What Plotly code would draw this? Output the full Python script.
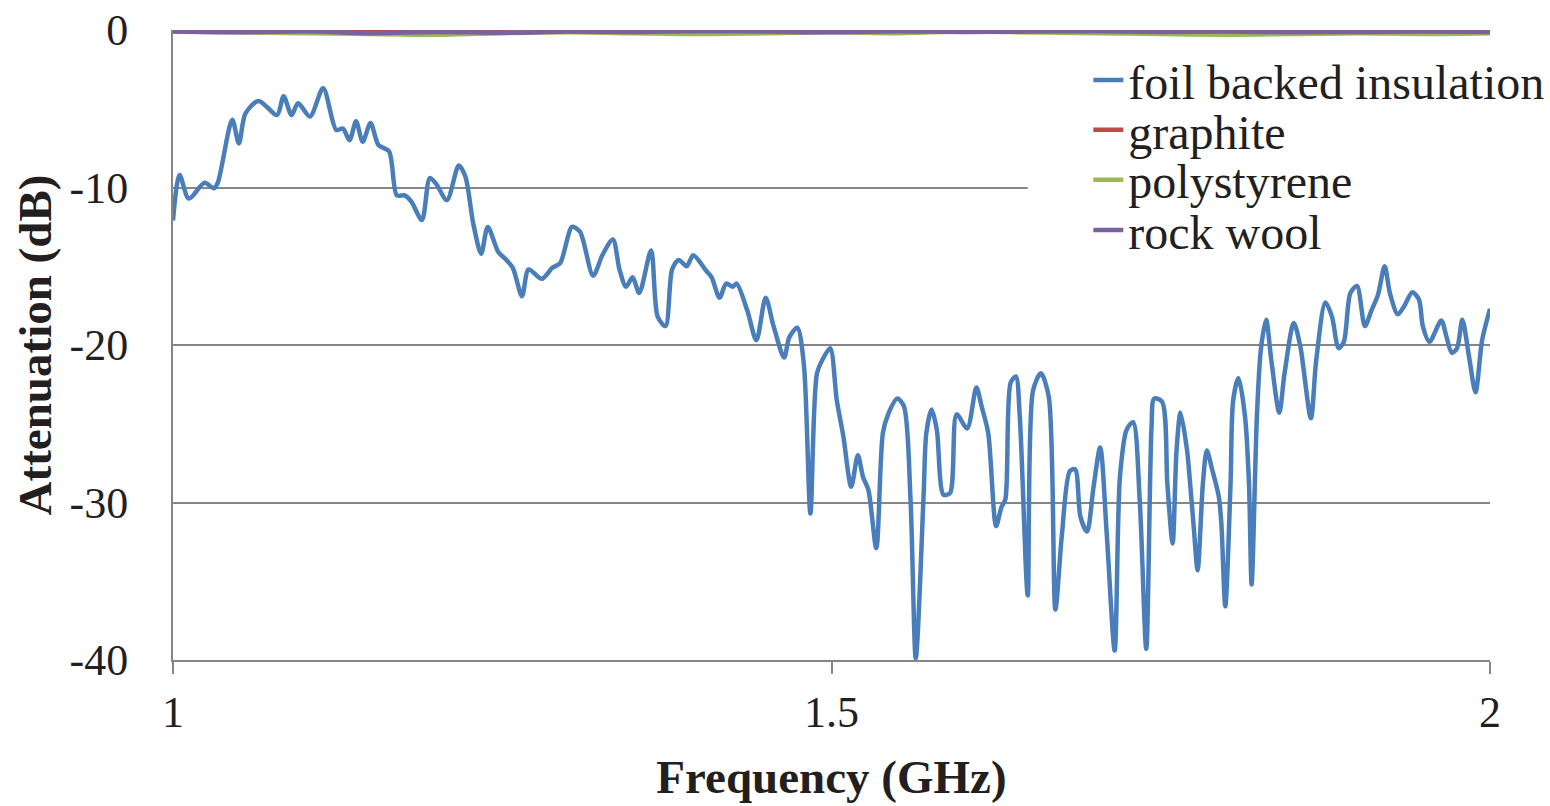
import plotly.graph_objects as go

# ---- data ----
freq_foil = [1.000, 1.005, 1.012, 1.024, 1.031, 1.034, 1.045, 1.050, 1.055, 1.065,
             1.079, 1.084, 1.090, 1.095, 1.104, 1.114, 1.124, 1.129, 1.134, 1.139,
             1.144, 1.150, 1.156, 1.164, 1.170, 1.176, 1.181, 1.189, 1.195, 1.200,
             1.208, 1.217, 1.222, 1.228, 1.234, 1.239, 1.247, 1.252, 1.258, 1.265,
             1.270, 1.280, 1.288, 1.294, 1.303, 1.309, 1.319, 1.326, 1.334, 1.339,
             1.344, 1.349, 1.354, 1.363, 1.368, 1.374, 1.379, 1.384, 1.390, 1.395,
             1.405, 1.409, 1.415, 1.420, 1.425, 1.428, 1.436, 1.443, 1.450, 1.456,
             1.464, 1.468, 1.474, 1.479, 1.484, 1.489, 1.494, 1.499, 1.504, 1.509,
             1.515, 1.520, 1.524, 1.528, 1.534, 1.539, 1.543, 1.550, 1.555, 1.560,
             1.564, 1.570, 1.572, 1.576, 1.580, 1.585, 1.590, 1.595, 1.603, 1.610,
             1.614, 1.619, 1.625, 1.629, 1.632, 1.636, 1.640, 1.643, 1.649, 1.653,
             1.659, 1.665, 1.670, 1.675, 1.681, 1.685, 1.689, 1.694, 1.699, 1.704,
             1.709, 1.715, 1.719, 1.724, 1.729, 1.734, 1.739, 1.743, 1.745, 1.751,
             1.755, 1.759, 1.762, 1.765, 1.770, 1.772, 1.775, 1.778, 1.782, 1.785,
             1.789, 1.794, 1.796, 1.799, 1.803, 1.805, 1.809, 1.814, 1.817, 1.819,
             1.823, 1.826, 1.830, 1.834, 1.840, 1.844, 1.851, 1.856, 1.864, 1.868,
             1.875, 1.880, 1.885, 1.889, 1.894, 1.899, 1.905, 1.910, 1.915, 1.920,
             1.924, 1.930, 1.935, 1.941, 1.946, 1.949, 1.954, 1.963, 1.967, 1.971,
             1.975, 1.979, 1.984, 1.989, 1.994, 2.000]
att_foil = [-12.1, -9.2, -10.7, -9.7, -10.05, -9.7, -5.7, -7.2, -5.3, -4.5,
            -5.4, -4.2, -5.4, -4.65, -5.5, -3.7, -6.35, -6.25, -7.0, -5.8,
            -7.1, -5.9, -7.3, -7.7, -10.5, -10.5, -10.9, -12.06, -9.4, -9.8,
            -10.8, -8.6, -9.3, -12.3, -14.2, -12.5, -14.1, -14.5, -15.1, -16.9,
            -15.2, -15.8, -15.1, -14.8, -12.5, -12.8, -15.6, -14.3, -13.3, -15.2,
            -16.3, -15.7, -16.7, -14.0, -18.2, -18.8, -15.2, -14.6, -15.0, -14.3,
            -15.3, -15.7, -17.0, -16.1, -16.3, -16.1, -17.8, -19.7, -17.0, -18.8,
            -20.8, -19.5, -18.9, -21.2, -30.7, -21.8, -20.8, -20.2, -23.5, -25.8,
            -29.0, -27.0, -28.4, -29.2, -32.9, -25.6, -24.4, -23.4, -23.9, -29.8,
            -39.9, -29.4, -25.6, -24.1, -25.4, -29.5, -29.4, -24.4, -25.3, -22.7,
            -23.9, -25.6, -31.5, -30.3, -29.8, -22.4, -22.0, -24.6, -35.9, -22.9,
            -21.8, -23.3, -36.8, -32.0, -28.0, -27.9, -30.9, -31.85, -29.0, -26.5,
            -32.0, -39.4, -28.4, -25.4, -24.9, -29.8, -39.3, -25.2, -23.4, -23.6,
            -28.8, -32.6, -26.7, -24.3, -26.7, -28.5, -31.5, -34.3, -28.8, -26.7,
            -27.9, -29.6, -31.3, -36.6, -28.8, -23.5, -22.1, -24.55, -28.8, -35.2,
            -24.55, -20.3, -18.4, -21.0, -24.3, -21.8, -18.6, -20.1, -24.65, -21.0,
            -17.3, -18.2, -20.2, -19.8, -16.7, -16.25, -18.8, -17.8, -16.8, -15.0,
            -16.7, -18.05, -17.5, -16.65, -17.1, -18.8, -19.8, -18.45, -19.5, -20.5,
            -20.2, -18.4, -20.7, -23.0, -19.7, -17.7]

freq_other = [1.00, 1.05, 1.10, 1.15, 1.20, 1.25, 1.30, 1.35, 1.40, 1.45, 1.50,
              1.55, 1.60, 1.65, 1.70, 1.75, 1.80, 1.85, 1.90, 1.95, 2.00]
att_graphite = [-0.05, -0.10, -0.08, -0.12, -0.10, -0.06, -0.10, -0.15, -0.12, -0.08, -0.10,
                -0.05, -0.10, -0.12, -0.08, -0.05, -0.10, -0.08, -0.12, -0.10, -0.08]
att_polystyrene = [-0.10, -0.15, -0.20, -0.25, -0.30, -0.20, -0.15, -0.20, -0.25, -0.20, -0.15,
                   -0.20, -0.10, -0.15, -0.20, -0.25, -0.30, -0.25, -0.20, -0.25, -0.20]
att_rockwool = [-0.10, -0.15, -0.08, -0.20, -0.12, -0.18, -0.10, -0.12, -0.08, -0.10, -0.15,
                -0.08, -0.12, -0.10, -0.08, -0.12, -0.10, -0.14, -0.12, -0.10, -0.12]

series_names = ["foil backed insulation", "graphite", "polystyrene", "rock wool"]
series_colors = ["#4a7ebb", "#be4b48", "#98b954", "#7d60a0"]
x_ticks = [1, 1.5, 2]
x_tick_labels = ["1", "1.5", "2"]
y_ticks = [0, -10, -20, -30, -40]
y_tick_labels = ["0", "-10", "-20", "-30", "-40"]

FONT = "Liberation Serif, Times New Roman, serif"
TXT = "#231f20"

fig = go.Figure()
data = [(freq_foil, att_foil), (freq_other, att_graphite),
        (freq_other, att_polystyrene), (freq_other, att_rockwool)]
legend_ids = ["legend", "legend2", "legend3", "legend4"]
for (xs, ys), name, col, lg in zip(data, series_names, series_colors, legend_ids):
    fig.add_trace(go.Scatter(x=xs, y=ys, mode="lines", name=name,
                             line=dict(color=col, width=4.5, shape="spline", smoothing=0.8),
                             legend=lg))

legend_rows_y = [0.920, 0.841, 0.762, 0.682]
leg_common = dict(x=0.695, xanchor="left", yanchor="middle",
                  bgcolor="rgba(0,0,0,0)", borderwidth=0,
                  font=dict(family=FONT, size=48, color=TXT), itemwidth=30)
layout_legends = {}
for lg, yy in zip(legend_ids, legend_rows_y):
    layout_legends[lg] = dict(leg_common, y=yy)

fig.update_layout(
    width=1550, height=806,
    paper_bgcolor="white", plot_bgcolor="white",
    margin=dict(l=173, r=60, t=30, b=146, autoexpand=False),
    showlegend=True,
    font=dict(family=FONT, color=TXT),
    # white panel behind the legend (hides gridline there, like the original legend box)
    shapes=[dict(type="rect", xref="paper", yref="paper", x0=0.649, x1=1.005,
                 y0=0.66, y1=0.95, fillcolor="white", line=dict(width=0),
                 layer="above")],
    xaxis=dict(range=[1, 2], tickvals=x_ticks, ticktext=x_tick_labels,
               showgrid=False, zeroline=False, automargin=False,
               showline=True, linecolor="#868686", linewidth=2,
               ticks="outside", ticklen=12, tickwidth=2, tickcolor="#868686",
               tickfont=dict(family=FONT, size=44, color=TXT),
               title=dict(text="<b>Frequency (GHz)</b>", standoff=24,
                          font=dict(family=FONT, size=47, color=TXT))),
    yaxis=dict(range=[-40, 0], tickvals=y_ticks, ticktext=y_tick_labels,
               showgrid=True, gridcolor="#868686", gridwidth=1.5, zeroline=False,
               automargin=False,
               showline=True, linecolor="#868686", linewidth=2,
               ticks="", ticklabelstandoff=34,
               tickfont=dict(family=FONT, size=44, color=TXT),
               title=dict(text="<b>Attenuation (dB)</b>", standoff=3,
                          font=dict(family=FONT, size=47, color=TXT))),
    **layout_legends,
)

fig.write_html("out.html")
